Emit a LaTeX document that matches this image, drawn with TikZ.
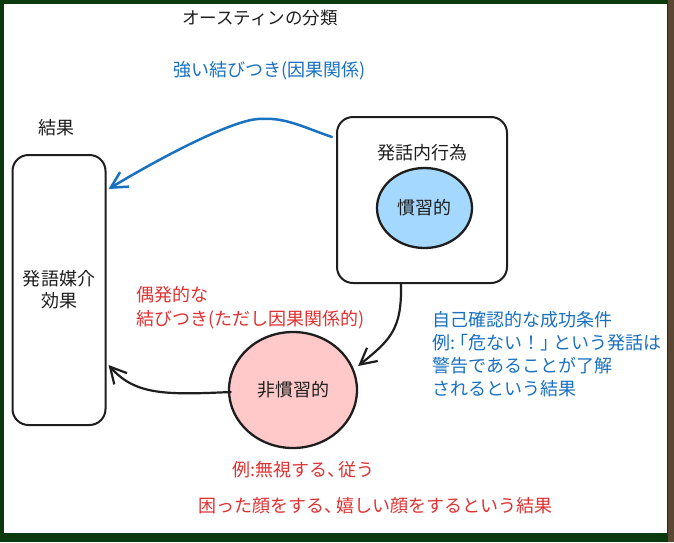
\documentclass[tikz,border=0pt]{standalone}
\usepackage{fontspec}
\setmainfont{Noto Sans CJK JP}
\usetikzlibrary{shapes.geometric,arrows.meta,calc}
\definecolor{ink}{HTML}{1E1E1E}
\definecolor{exblue}{HTML}{1971C2}
\definecolor{exred}{HTML}{E03131}
\definecolor{expink}{HTML}{FFC9C9}
\definecolor{exlblue}{HTML}{A5D8FF}
\definecolor{framegreen}{HTML}{0B3A0E}
\definecolor{wood}{HTML}{5A4632}
\begin{document}
\begin{tikzpicture}[x=1pt,y=-1pt,
  every node/.style={font=\fontsize{18}{22}\selectfont, text=ink},
  boxshape/.style={draw=ink, line width=2pt, rounded corners=16pt, align=center, inner sep=0pt},
  ellshape/.style={ellipse, draw=ink, line width=2.3pt, inner sep=0pt},
  plain/.style={inner sep=0pt},
  bluetxt/.style={inner sep=0pt, text=exblue, font=\fontsize{18}{23}\selectfont},
  redtxt/.style={inner sep=0pt, text=exred, font=\fontsize{18}{24}\selectfont},
  barb/.style={-{Straight Barb[length=16pt,width=17pt]}, line cap=round, line join=round},
  bluearrow/.style={barb, draw=exblue, line width=2.5pt},
  blackarrow/.style={barb, draw=ink, line width=2.2pt}]
\useasboundingbox (0,0) rectangle (674,542);
\fill[framegreen] (0,0) rectangle (674,542);
\fill[wood] (668,0) rectangle (674,542);
\fill[white] (4,4) rectangle (667,533);

% titles
\node[plain, font=\fontsize{17.5}{22}\selectfont] (title) at (260,18) {オースティンの分類};
\node[plain, text=exblue] (strong) at (269.5,71) {強い結びつき(因果関係)};
\node[plain] (result) at (56.5,128) {結果};

% shapes
\node[boxshape, minimum width=93pt, minimum height=270pt] (lbox) at (59,290) {発語媒介\\効果};
\node[boxshape, minimum width=170pt, minimum height=166pt] (rbox) at (422,200) {};
\node[plain] (illoc) at (422.5,153) {発話内行為};
\node[ellshape, fill=exlblue, minimum width=95pt, minimum height=80pt] (conv) at (424.5,208) {慣習的};
\node[ellshape, fill=expink, minimum width=128pt, minimum height=116pt] (nonconv) at (293,390) {非慣習的};

% texts
\node[redtxt, anchor=north west, align=left] (incidental) at (136,286) {偶発的な\\結びつき(ただし因果関係的)};
\node[bluetxt, anchor=north west, align=left] (selfcheck) at (432,311) {自己確認的な成功条件\\例:\hspace{-5pt}「危ない！」\hspace{-5pt}という発話は\\警告であることが了解\\されるという結果};
\node[plain, text=exred] (example) at (303.5,470) {例:無視する、\hspace{-7pt}従う};
\node[plain, text=exred] (faces) at (375,506) {困った顔をする、\hspace{-6pt}嬉しい顔をするという結果};

% connectors
\draw[bluearrow] ($(rbox.north west)+(-4,21)$) .. controls (300,126) and (285,117) .. (258,119)
   .. controls (230,121) and (160,158) .. ($(lbox.north east)+(2,35)$);
\draw[blackarrow] ($(rbox.south)+(-21,0)$) .. controls (402,330) and (390,340) .. ($(nonconv.east)+(0,-24)$);
\draw[blackarrow] ($(nonconv.west)+(3,2)$) .. controls (165,395) and (135,395) .. ($(lbox.east)+(2,75)$);
\end{tikzpicture}
\end{document}
